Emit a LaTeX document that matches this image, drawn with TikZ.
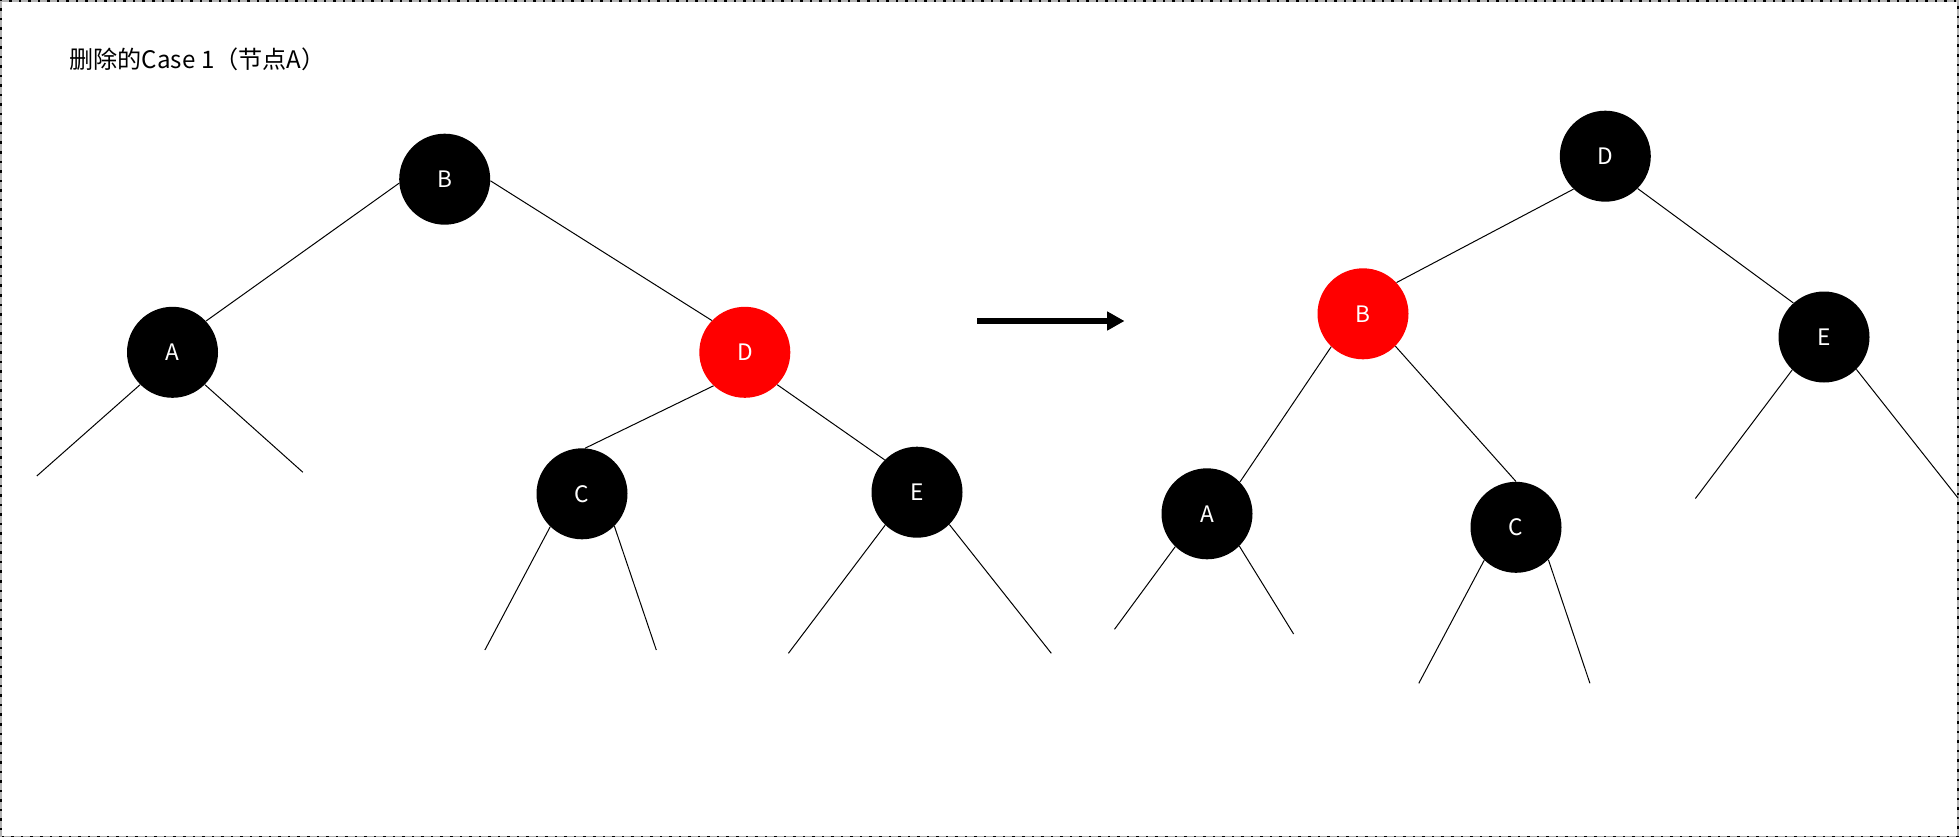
\documentclass[tikz,border=0pt]{standalone}
\usepackage{fontspec}
\setmainfont{Noto Sans CJK SC}
\usepackage{tikz}
\usetikzlibrary{arrows.meta, positioning}
\definecolor{NodeRed}{HTML}{FF0000}
\definecolor{FrameGray}{HTML}{B3B3B3}
\tikzset{
  % Node styles
  blacknode/.style={circle, fill=black, text=white, minimum size=68.25pt, inner sep=0pt, font=\fontsize{17pt}{19pt}\selectfont},
  rednode/.style={blacknode, fill=NodeRed},
  % Line styles
  edge/.style={draw=black, line width=0.75pt},
  bigarrow/.style={-{Triangle[length=13pt, width=13.5pt]}, line width=5pt, black}
}

\begin{document}
\begin{tikzpicture}[x=0.75pt, y=-0.75pt]
  \useasboundingbox (0,0) rectangle (1959,838);
  % Frame
  \draw[black, line width=1.1pt] (1,1) rectangle (1958,836.5);
  \draw[FrameGray, line width=1.3pt, dash pattern=on 5.25pt off 1.9pt] (1,1) rectangle (1958,836.5);

  % Title
  \node[anchor=base west, inner sep=0pt, font=\fontsize{18.1pt}{21pt}\selectfont] (title) at (69.3,69) {删除的Case 1（节点A）};

  % Tree before
  \node[blacknode] (lB) at (444.7,179.2) {B};
  \node[blacknode] (lA) at (172.5,352.3) {A};
  \node[rednode] (lD) at (744.8,352.3) {D};
  \node[blacknode] (lC) at (582,493.8) {C};
  \node[blacknode] (lE) at (917,492.2) {E};

  \draw[edge] (lB.185) -- (lA.43);
  \draw[edge] (lB.-2) -- (lD.136);
  \draw[edge] (lD.-133) -- (lC.86);
  \draw[edge] (lD.-45) -- (lE.135);

  % Leaves before
  \coordinate (lAl) at (36.8,476);
  \coordinate (lAr) at (302.9,472.3);
  \coordinate (lCl) at (484.9,650);
  \coordinate (lCr) at (656.3,650);
  \coordinate (lEl) at (788.4,653.3);
  \coordinate (lEr) at (1051.3,653.3);
  \draw[edge] (lA.-135) -- (lAl);
  \draw[edge] (lA.-45) -- (lAr);
  \draw[edge] (lC.-134) -- (lCl);
  \draw[edge] (lC.-45) -- (lCr);
  \draw[edge] (lE.-134) -- (lEl);
  \draw[edge] (lE.-45) -- (lEr);

  % Arrow
  \coordinate (arrowS) at (977,321);
  \coordinate (arrowE) at (1124.5,321);
  \draw[bigarrow] (arrowS) -- (arrowE);

  % Tree after
  \node[blacknode] (rD) at (1605.3,156.2) {D};
  \node[rednode] (rB) at (1363,313.8) {B};
  \node[blacknode] (rE) at (1824,337) {E};
  \node[blacknode] (rA) at (1207,513.8) {A};
  \node[blacknode] (rC) at (1516,527.3) {C};

  \draw[edge] (rD.-134) -- (rB.43);
  \draw[edge] (rD.-45) -- (rE.132);
  \draw[edge] (rB.-134) -- (rA.44);
  \draw[edge] (rB.-45) -- (rC.north);

  % Leaves after
  \coordinate (rAl) at (1114.5,629.3);
  \coordinate (rAr) at (1293.6,634);
  \coordinate (rCl) at (1418.8,683.3);
  \coordinate (rCr) at (1589.9,683.3);
  \coordinate (rEl) at (1695.4,498.5);
  \coordinate (rEr) at (1958,498);
  \draw[edge] (rA.-134) -- (rAl);
  \draw[edge] (rA.-45) -- (rAr);
  \draw[edge] (rC.-134) -- (rCl);
  \draw[edge] (rC.-45) -- (rCr);
  \draw[edge] (rE.-134) -- (rEl);
  \draw[edge] (rE.-45) -- (rEr);
\end{tikzpicture}
\end{document}
